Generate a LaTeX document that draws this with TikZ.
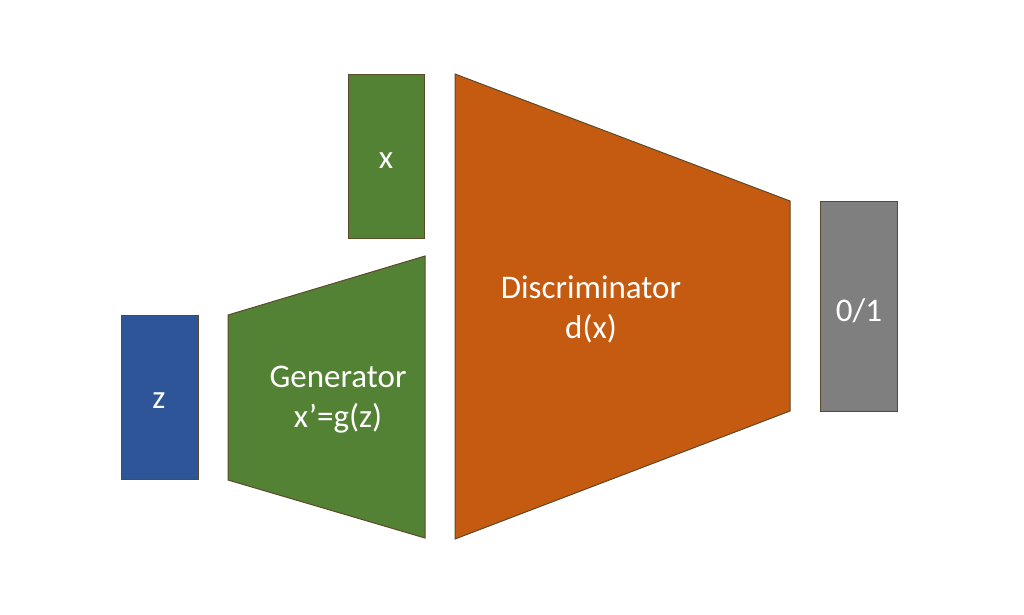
\documentclass[tikz,border=0pt]{standalone}
\usepackage{fontspec}
\setmainfont{Carlito}
\usetikzlibrary{positioning}
\definecolor{zblue}{HTML}{2E5597}
\definecolor{netgreen}{HTML}{548235}
\definecolor{discorange}{HTML}{C55A11}
\definecolor{outgray}{HTML}{7F7F7F}
\definecolor{edge}{HTML}{5A4A2A}

\begin{document}
\begin{tikzpicture}[
    x=1pt, y=-1pt,
    block/.style={draw=edge, line width=1pt},
    lbl/.style={text=white, font=\fontsize{33}{40}\selectfont, align=center, inner sep=0pt}
  ]
    \useasboundingbox (0,0) rectangle (1024,614);
    % input noise and real sample
    \draw[block, fill=zblue] (121,315) rectangle (198,479);
    \draw[block, fill=netgreen] (348,74) rectangle (424,238);
    % generator
    \draw[block, fill=netgreen] (228,315) -- (425,256) -- (425,538) -- (228,480) -- cycle;
    % discriminator
    \draw[block, fill=discorange] (455,74) -- (790,201) -- (790,411) -- (455,539) -- cycle;
    % output
    \draw[block, fill=outgray] (820,201) rectangle (897,411);
    \node[lbl] (zlbl) at (159,401) {z};
    \node[lbl] (xlbl) at (386,161) {x};
    \node[lbl] (genlbl) at (338,400) {Generator\\x’=g(z)};
    \node[lbl] (disclbl) at (591,309) {Discriminator\\d(x)};
    \node[lbl] (outlbl) at (859,311) {0/1};
  \end{tikzpicture}
\end{document}
